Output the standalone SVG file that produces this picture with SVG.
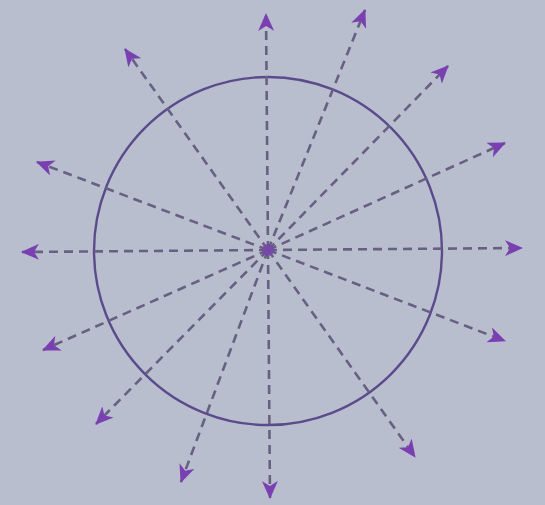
<svg xmlns="http://www.w3.org/2000/svg" width="545" height="505" viewBox="0 0 545 505">
<style>
.ray{stroke:#686083;stroke-width:2.6;stroke-dasharray:9 6;fill:none;marker-end:url(#ah)}
.circ{fill:none;stroke:#5b4b8c;stroke-width:2.4}
</style>
<defs>
<marker id="ah" viewBox="0 0 18 16" refX="17" refY="8" markerWidth="18" markerHeight="16" markerUnits="userSpaceOnUse" orient="auto">
<path d="M0,0 L18,8 L0,16 L5,8 Z" fill="#7a40b2"/>
</marker>
</defs>
<rect width="545" height="505" fill="#b9bece"/>
<g id="circle"><circle class="circ" cx="268" cy="251" r="174"/></g>
<g id="rays">
<line class="ray" x1="268" y1="250" x2="266" y2="14"/>
<line class="ray" x1="268" y1="250" x2="365" y2="10"/>
<line class="ray" x1="268" y1="250" x2="448" y2="66"/>
<line class="ray" x1="268" y1="250" x2="505" y2="143"/>
<line class="ray" x1="268" y1="250" x2="522" y2="248"/>
<line class="ray" x1="268" y1="250" x2="505" y2="341"/>
<line class="ray" x1="268" y1="250" x2="415" y2="457"/>
<line class="ray" x1="268" y1="250" x2="270" y2="498"/>
<line class="ray" x1="268" y1="250" x2="181" y2="482"/>
<line class="ray" x1="268" y1="250" x2="96" y2="424"/>
<line class="ray" x1="268" y1="250" x2="43" y2="350"/>
<line class="ray" x1="268" y1="250" x2="22" y2="252"/>
<line class="ray" x1="268" y1="250" x2="37" y2="162"/>
<line class="ray" x1="268" y1="250" x2="125" y2="49"/>
</g>
<g id="center"><circle cx="268" cy="250" r="6" fill="#7a40b2" opacity="0.7"/></g>
</svg>
